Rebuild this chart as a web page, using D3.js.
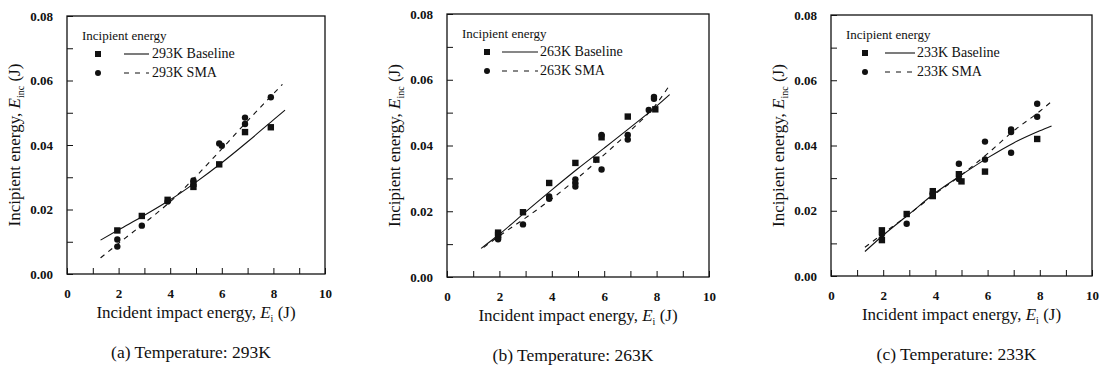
<!DOCTYPE html>
<html><head><meta charset="utf-8">
<script src="https://cdn.jsdelivr.net/npm/d3@7"></script>
<style>
body{margin:0;background:#fff;}
</style></head><body>
<svg id="chart" width="1099" height="369" font-family="Liberation Serif" style="font-family:'Liberation Serif'">
</svg>
<script>
// ---------- data ----------
const xTickValues = [0, 2, 4, 6, 8, 10];
const yTickValues = [0.00, 0.02, 0.04, 0.06, 0.08];
const temperatures = ["293K", "263K", "233K"];
const captions = ["(a) Temperature: 293K", "(b) Temperature: 263K", "(c) Temperature: 233K"];

// measured points (x = incident impact energy J, y = incipient energy J)
const baseline293 = [[1.95,0.0135],[2.9,0.018],[3.9,0.023],[4.9,0.028],[4.9,0.027],[5.9,0.034],[6.9,0.044],[7.9,0.0455]];
const sma293 = [[1.95,0.0107],[1.95,0.0085],[2.9,0.015],[3.9,0.0225],[4.9,0.029],[5.9,0.0405],[6.0,0.0398],[6.9,0.0485],[6.9,0.0465],[7.9,0.0548]];
const baseline263 = [[1.95,0.0135],[1.95,0.0128],[2.9,0.0197],[3.9,0.0286],[4.9,0.0347],[5.7,0.0357],[5.9,0.0425],[6.9,0.0488],[7.95,0.051]];
const sma263 = [[1.95,0.012],[1.95,0.0115],[2.9,0.016],[3.9,0.0245],[3.9,0.0238],[4.9,0.0297],[4.9,0.0285],[4.9,0.0275],[5.9,0.0327],[5.9,0.0432],[6.9,0.0432],[6.9,0.0418],[7.7,0.0508],[7.9,0.0548],[7.9,0.0542]];
const baseline233 = [[1.95,0.011],[1.95,0.014],[2.9,0.019],[3.9,0.026],[3.9,0.0245],[4.9,0.0312],[5.0,0.029],[5.9,0.032],[7.9,0.042]];
const sma233 = [[1.95,0.0128],[2.9,0.016],[3.9,0.025],[3.9,0.0255],[4.9,0.0344],[4.9,0.0297],[5.9,0.0412],[5.9,0.0357],[6.9,0.0449],[6.9,0.0441],[6.9,0.0378],[7.9,0.0528],[7.9,0.0488]];

// fitted curves
const fitBaseline293 = [[1.3,0.0105],[2,0.0137],[3,0.0182],[4,0.023],[5,0.0285],[6,0.0345],[7,0.041],[8,0.0478],[8.45,0.0508]];
const fitSma293 = [[1.3,0.005],[2,0.0095],[3,0.0158],[4,0.0224],[5,0.0303],[6,0.0388],[7,0.0475],[8.35,0.0588]];
const fitBaseline263 = [[1.3,0.0087],[2,0.013],[3,0.0198],[4,0.0265],[5,0.033],[6,0.0392],[7,0.0455],[8,0.052],[8.5,0.0555]];
const fitSma263 = [[1.4,0.009],[2,0.0125],[3,0.018],[4,0.0238],[5,0.0302],[6,0.0372],[7,0.0445],[8,0.0527],[8.45,0.0578]];
const fitBaseline233 = [[1.3,0.0075],[2,0.0125],[3,0.019],[4,0.0255],[5,0.031],[6,0.0362],[7,0.0408],[8,0.0445],[8.45,0.046]];
const fitSma233 = [[1.3,0.0088],[2,0.013],[3,0.019],[4,0.0252],[5,0.031],[6,0.0375],[7,0.0445],[8,0.0505],[8.45,0.0535]];

const seriesBaseline = [baseline293, baseline263, baseline233];
const seriesSma = [sma293, sma263, sma233];
const fitsBaseline = [fitBaseline293, fitBaseline263, fitBaseline233];
const fitsSma = [fitSma293, fitSma263, fitSma233];

// ---------- layout ----------
const FONT = "Liberation Serif";
const layout = [
  {left:67, right:325, top:16, bottom:274, lgMark:31, lgLine:[57,82], lgText:85},
  {left:447, right:709, top:14, bottom:277, lgMark:40, lgLine:[55,91], lgText:93},
  {left:831, right:1092, top:15, bottom:276, lgMark:34, lgLine:[54,84], lgText:86}
];

const svg = d3.select("#chart");

function styleText(sel, size, weight) {
  sel.attr("font-family", FONT).attr("font-size", size)
     .attr("font-weight", weight || "normal").attr("fill", "#111")
     .style("font-family", FONT);
  return sel;
}

layout.forEach((L, i) => {
  const g = svg.append("g");
  const x = d3.scaleLinear().domain([0, 10]).range([L.left, L.right]);
  const y = d3.scaleLinear().domain([0, 0.08]).range([L.bottom, L.top]);

  g.append("rect").attr("x", L.left).attr("y", L.top)
    .attr("width", L.right - L.left).attr("height", L.bottom - L.top)
    .attr("fill", "none").attr("stroke", "#111").attr("stroke-width", 1.3);

  const xAxis = d3.axisBottom(x).tickValues(d3.range(0, 11, 1)).tickSize(-6)
    .tickFormat(d => xTickValues.includes(d) ? d3.format("d")(d) : "").tickPadding(15);
  const gx = g.append("g").attr("transform", `translate(0,${L.bottom})`).call(xAxis);
  gx.attr("font-family", FONT);
  gx.select(".domain").remove();
  gx.selectAll("line").attr("stroke", "#111");
  styleText(gx.selectAll("text"), 13, "bold");

  const yAxis = d3.axisLeft(y).tickValues(d3.range(0, 0.0801, 0.01)).tickSize(-6)
    .tickFormat(d => yTickValues.some(v => Math.abs(v - d) < 1e-9) ? d3.format(".2f")(d) : "").tickPadding(14);
  const gy = g.append("g").attr("transform", `translate(${L.left},0)`).call(yAxis);
  gy.attr("font-family", FONT);
  gy.select(".domain").remove();
  gy.selectAll("line").attr("stroke", "#111");
  styleText(gy.selectAll("text"), 13, "bold");

  const line = d3.line().x(d => x(d[0])).y(d => y(d[1])).curve(d3.curveMonotoneX);
  g.append("path").attr("d", line(fitsBaseline[i])).attr("fill", "none")
    .attr("stroke", "#111").attr("stroke-width", 1.1);
  g.append("path").attr("d", line(fitsSma[i])).attr("fill", "none")
    .attr("stroke", "#111").attr("stroke-width", 1.1).attr("stroke-dasharray", "5,5");

  g.selectAll(".sq").data(seriesBaseline[i]).enter().append("rect")
    .attr("x", d => x(d[0]) - 3.2).attr("y", d => y(d[1]) - 3.2)
    .attr("width", 6.4).attr("height", 6.4).attr("fill", "#111");
  g.selectAll(".ci").data(seriesSma[i]).enter().append("circle")
    .attr("cx", d => x(d[0])).attr("cy", d => y(d[1])).attr("r", 3.2).attr("fill", "#111");

  const lg = g.append("g").attr("transform", `translate(${L.left},${L.top})`);
  styleText(lg.append("text").attr("x", 15).attr("y", 24).text("Incipient energy"), 13);
  lg.append("rect").attr("x", L.lgMark - 3).attr("y", 38 - 3).attr("width", 6).attr("height", 6).attr("fill", "#111");
  lg.append("circle").attr("cx", L.lgMark).attr("cy", 57).attr("r", 3).attr("fill", "#111");
  lg.append("line").attr("x1", L.lgLine[0]).attr("x2", L.lgLine[1]).attr("y1", 38).attr("y2", 38)
    .attr("stroke", "#111").attr("stroke-width", 1.1);
  lg.append("line").attr("x1", L.lgLine[0]).attr("x2", L.lgLine[1]).attr("y1", 57).attr("y2", 57)
    .attr("stroke", "#111").attr("stroke-width", 1.1).attr("stroke-dasharray", "5,6");
  styleText(lg.append("text").attr("x", L.lgText).attr("y", 42).text(temperatures[i] + " Baseline"), 14);
  styleText(lg.append("text").attr("x", L.lgText).attr("y", 61).text(temperatures[i] + " SMA"), 14);

  const cx = (L.left + L.right) / 2;
  const xt = styleText(g.append("text").attr("x", cx).attr("y", L.bottom + 44).attr("text-anchor", "middle"), 17);
  xt.append("tspan").text("Incident impact energy, ");
  xt.append("tspan").attr("font-style", "italic").text("E");
  xt.append("tspan").attr("font-size", 10).attr("dy", 4).text("i");
  xt.append("tspan").attr("dy", -4).text(" (J)");

  const cy = (L.top + L.bottom) / 2;
  const yt = styleText(g.append("text").attr("transform", `translate(${L.left - 47},${cy}) rotate(-90)`)
    .attr("text-anchor", "middle"), 17);
  yt.append("tspan").text("Incipient energy, ");
  yt.append("tspan").attr("font-style", "italic").text("E");
  yt.append("tspan").attr("font-size", 10).attr("dy", 4).text("inc");
  yt.append("tspan").attr("dy", -4).text(" (J)");

  styleText(g.append("text").attr("x", cx - 5).attr("y", L.bottom + 84).attr("text-anchor", "middle")
    .text(captions[i]), 17.5);
});
</script>
</body></html>
